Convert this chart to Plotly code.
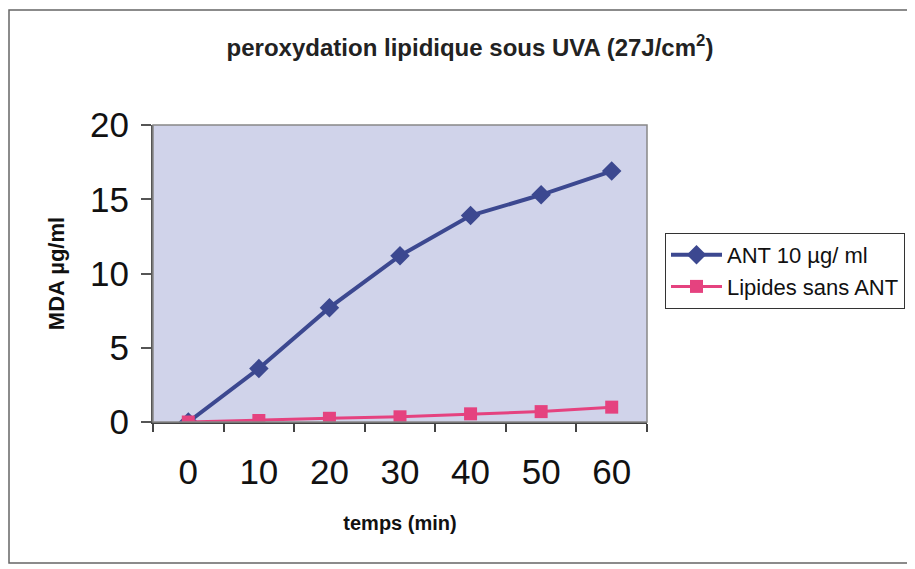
import plotly.graph_objects as go

temps = ["0", "10", "20", "30", "40", "50", "60"]
ant_10 = [0.0, 3.6, 7.7, 11.2, 13.9, 15.3, 16.9]
lipides_sans_ant = [0.0, 0.1, 0.25, 0.35, 0.55, 0.7, 1.0]
y_ticks = [0, 5, 10, 15, 20]

# page body has an 8px margin: figure coordinates = screen - 8
OFF = 8
W, H = 907, 561
L, R, T, B = 153 - OFF, 647 - OFF, 125 - OFF, 422 - OFF
PW, PH = R - L, B - T


def px(xs):
    return (xs - OFF - L) / PW


def py(ys):
    return (B - (ys - OFF)) / PH


fig = go.Figure()
fig.add_trace(go.Scatter(
    x=temps, y=ant_10, name="ANT 10 µg/ ml", mode="lines+markers",
    line=dict(color="#3c4890", width=4),
    marker=dict(symbol="diamond", size=15, color="#3c4890"),
))
fig.add_trace(go.Scatter(
    x=temps, y=lipides_sans_ant, name="Lipides sans ANT", mode="lines+markers",
    line=dict(color="#e5427f", width=3),
    marker=dict(symbol="square", size=13, color="#e5427f"),
))

fig.update_layout(
    width=W, height=H,
    margin=dict(l=L, r=W - R, t=T, b=H - B, pad=0, autoexpand=False),
    paper_bgcolor="white",
    plot_bgcolor="#d0d3ea",
    font=dict(family="Liberation Sans, Arial, sans-serif", color="black"),
    title=dict(
        text="<b>peroxydation lipidique sous UVA (27J/cm<sup>2</sup>)</b>",
        font=dict(size=24, color="#222"),
        xref="paper", x=px(470), xanchor="center",
        yref="container", y=1 - (48 - OFF) / H, yanchor="middle",
    ),
    xaxis=dict(
        type="category", categoryorder="array", categoryarray=temps,
        range=[-0.5, 6.5], tickmode="array", tickvals=temps, ticktext=temps,
        showgrid=False, zeroline=False,
        showline=True, linecolor="#444", linewidth=2,
        ticks="outside", ticklen=8, tickcolor="#444", tickwidth=1.5,
        tickson="boundaries", ticklabelstandoff=18,
        tickfont=dict(size=35, color="#111"),
        title=dict(text="<b>temps (min)</b>", font=dict(size=20, color="#111"), standoff=26),
    ),
    yaxis=dict(
        range=[0, 20], tickvals=y_ticks, showgrid=False, zeroline=False,
        showline=True, linecolor="#555", linewidth=2, mirror=False,
        ticks="outside", ticklen=10, tickcolor="#555", tickwidth=1.5,
        ticklabelstandoff=5,
        tickfont=dict(size=35, color="#111"),
        title=dict(text="<b>MDA µg/ml</b>", font=dict(size=22, color="#111"), standoff=19),
    ),
    legend=dict(
        x=px(665), y=py(233), xanchor="left", yanchor="top",
        bordercolor="#333", borderwidth=1, bgcolor="white",
        font=dict(size=22, color="#111"), tracegroupgap=0, itemwidth=51,
    ),
    showlegend=True,
)

# plot area top/right border and outer chart frame
fig.add_shape(type="rect", xref="paper", yref="paper", x0=0, y0=0, x1=1, y1=1,
              line=dict(color="#888", width=1.5), layer="above")
fig.add_shape(type="rect", xref="paper", yref="paper",
              x0=(1 - L) / PW, x1=(W + 5 - L) / PW,
              y0=py(563), y1=py(10),
              line=dict(color="#666", width=1.5))

fig.write_html("out.html")
